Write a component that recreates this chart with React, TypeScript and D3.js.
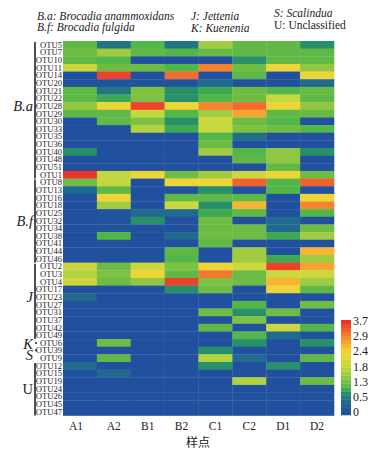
import * as d3 from 'd3';

const otus = [
  'OTU5', 'OTU7', 'OTU10', 'OTU11', 'OTU14', 'OTU20', 'OTU21', 'OTU22', 'OTU28', 'OTU29',
  'OTU30', 'OTU33', 'OTU35', 'OTU36', 'OTU40', 'OTU48', 'OTU51', 'OTU1',
  'OTU8', 'OTU13', 'OTU16', 'OTU18', 'OTU25', 'OTU32', 'OTU34', 'OTU38', 'OTU41', 'OTU44', 'OTU46',
  'OTU2', 'OTU3', 'OTU4', 'OTU17', 'OTU23', 'OTU27', 'OTU31', 'OTU37', 'OTU42', 'OTU49',
  'OTU6', 'OTU39', 'OTU9',
  'OTU12', 'OTU15', 'OTU19', 'OTU24', 'OTU26', 'OTU45', 'OTU47',
];
const samples = ['A1', 'A2', 'B1', 'B2', 'C1', 'C2', 'D1', 'D2'];

// 每行一个 OTU, 顺序同 samples
const values = [
  [1.2, 0.55, 1.1, 0.55, 1.6, 1.2, 1.2, 0.8],
  [1.3, 1.6, 1.2, 1.1, 1.25, 1.2, 1.2, 1.2],
  [1.2, 1.1, 0, 0, 0, 0.8, 1.2, 1.2],
  [1.9, 1.3, 1.3, 1.1, 2.9, 1.3, 2.3, 1.5],
  [0, 3.5, 0, 3.1, 0, 1.2, 0.02, 2.3],
  [0, 0.1, 0.1, 0.1, 0.4, 0.05, 0.05, 0.4],
  [1.2, 0.55, 1.4, 0.8, 1.0, 1.3, 1.1, 1.25],
  [1.2, 1.0, 1.4, 0.8, 1.1, 1.3, 1.8, 1.2],
  [1.5, 2.3, 3.5, 2.3, 2.9, 3.1, 2.3, 1.5],
  [1.2, 1.2, 1.8, 1.1, 1.6, 2.7, 1.2, 1.25],
  [0, 1.2, 1.4, 0.8, 1.9, 1.3, 1.1, 0],
  [0, 0, 1.7, 1.0, 1.8, 1.4, 1.3, 1.1],
  [0, 0, 0, 0, 1.1, 0.5, 0, 0],
  [0, 0, 0, 0, 1.3, 0, 0, 0],
  [0.8, 0, 0, 0, 1.6, 1.1, 1.5, 0.8],
  [0, 0, 0, 0, 0, 1.2, 1.5, 0],
  [0, 0, 0, 0, 0, 0, 1.2, 0],
  [3.6, 1.8, 2.3, 1.3, 1.6, 1.9, 2.3, 1.3],
  [1.3, 1.8, 0, 2.3, 2.3, 3.2, 1.1, 3.2],
  [0.4, 1.2, 0, 0.1, 0.8, 0.05, 1.1, 0.05],
  [0.05, 2.3, 0, 1.2, 1.2, 1.2, 0, 2.3],
  [0.05, 1.6, 0, 1.9, 0.8, 2.6, 0, 2.9],
  [0.05, 0.1, 0.4, 0.4, 1.0, 1.2, 0, 1.1],
  [0.05, 0.1, 0.8, 0.05, 1.3, 0, 0.4, 0.05],
  [0.05, 0.1, 0.05, 0.05, 1.3, 1.3, 0.4, 1.3],
  [0.05, 1.1, 0, 0.4, 1.3, 1.3, 1.0, 1.6],
  [0.05, 0.1, 0, 0.05, 1.2, 0, 0, 0.05],
  [0, 0, 0, 1.2, 0, 1.6, 0, 2.6],
  [0, 0, 0, 1.1, 0, 1.6, 1.0, 1.6],
  [1.9, 1.3, 1.9, 1.4, 2.3, 1.9, 3.5, 2.7],
  [1.7, 1.4, 2.3, 1.2, 3.0, 1.3, 1.9, 1.9],
  [1.9, 1.3, 1.5, 3.5, 1.4, 1.3, 2.6, 1.6],
  [0, 0, 0, 0.8, 1.3, 0, 2.3, 1.2],
  [0.4, 0, 0, 0, 0, 0, 0, 0],
  [0, 0, 0, 0, 0, 1.1, 0, 1.3],
  [0, 0, 0, 0, 1.3, 0.8, 1.3, 0],
  [0, 0, 0, 0, 0, 1.4, 0, 0],
  [0, 0, 0, 0, 1.2, 0, 1.9, 1.1],
  [0, 0, 0, 0, 0, 1.1, 0.4, 0],
  [0, 1.3, 0, 0, 0, 0.8, 0, 0.8],
  [0, 0, 0, 0, 0.8, 0, 0, 0],
  [0, 1.2, 0, 0, 1.7, 0.4, 0, 1.2],
  [0.4, 0, 0, 0, 0.8, 0, 0.8, 0],
  [0, 0.4, 0, 0, 0, 0, 0, 0],
  [0, 0, 0, 0, 0, 1.7, 0, 1.3],
  [0, 0, 0, 0, 0, 0, 0, 0],
  [0, 0, 0, 0, 0, 0, 0, 0],
  [0, 0, 0, 0, 0, 0, 0, 0],
  [0, 0, 0, 0, 0, 0, 0, 0],
];

const legendTicks = [0, 0.5, 1.3, 1.8, 2.4, 2.9, 3.7];

// 分组竖线: 起止 OTU
const groups = [
  { from: 'OTU5', to: 'OTU1', label: 'B.a', at: 'OTU28', italic: true },
  { from: 'OTU8', to: 'OTU46', label: 'B.f', at: 'OTU32', italic: true },
  { from: 'OTU2', to: 'OTU49', label: 'J', at: 'OTU23', italic: true },
  { from: 'OTU12', to: 'OTU47', label: 'U', at: 'OTU24', italic: false },
];
const singles = [
  { at: 'OTU6', label: 'K', shift: 1 },
  { at: 'OTU39', label: 'S', shift: 5 },
];

const legendNotes = [
  { x: 37, y: 20, text: 'B.a: Brocadia anammoxidans', italic: true },
  { x: 37, y: 31, text: 'B.f: Brocadia fulgida', italic: true },
  { x: 191, y: 20, text: 'J: Jettenia', italic: true },
  { x: 191, y: 32, text: 'K: Kuenenia', italic: true },
  { x: 274, y: 17, text: 'S: Scalindua', italic: true },
  { x: 274, y: 29, text: 'U: Unclassified', italic: false },
];

const serif = '"Liberation Serif", serif';

const color = d3
  .scaleLinear<string>()
  .domain([0, 0.05, 0.5, 0.9, 1.1, 1.3, 1.8, 2.4, 2.9, 3.7])
  .range(['#21509f', '#21509f', '#20708a', '#2a9a5e', '#52b648', '#6ebc44', '#c3d73f', '#f6d535', '#f5842e', '#ea2a2a'])
  .clamp(true);

export default function App() {
  const x = d3.scaleBand().domain(samples).range([63, 334]);
  const y = d3.scaleBand().domain(otus).range([41, 415.5]);
  const mid = (o: string) => (y(o) as number) + y.bandwidth() / 2;

  // 图例按刻度等距排列
  const legendY = d3.scalePoint().domain(legendTicks.map(String)).range([412, 321]);
  const legendBand = d3.scaleLinear().domain([0, legendTicks.length - 1]).range([415, 320]);
  const legendValue = d3.scaleLinear<number>().domain(d3.range(legendTicks.length)).range(legendTicks);
  const steps = d3.range(0, 6, 0.25);

  return (
    <svg
      width={379}
      height={454}
      style={{ position: 'absolute', left: 0, top: 0, background: '#fff' }}
      fontFamily={serif}
      fill="#222"
    >
      {legendNotes.map(n => (
        <text key={n.text} x={n.x} y={n.y} fontSize={11.5} fontStyle={n.italic ? 'italic' : 'normal'}>
          {n.text}
        </text>
      ))}

      {values.map((row, r) =>
        row.map((v, c) => (
          <rect
            key={`${r}-${c}`}
            x={x(samples[c])}
            y={y(otus[r])}
            width={x.bandwidth() + 0.3}
            height={y.bandwidth() + 0.3}
            fill={color(v)}
          />
        )),
      )}

      {otus.map(o => (
        <text key={o} x={62} y={mid(o)} dy="0.34em" fontSize={8.6} textAnchor="end">
          {o}
        </text>
      ))}

      {groups.map(g => (
        <g key={g.label}>
          <line
            x1={35}
            x2={35}
            y1={(y(g.from) as number) + 1}
            y2={(y(g.to) as number) + y.bandwidth()}
            stroke="#222"
            strokeWidth={1.6}
          />
          <text
            x={33}
            y={mid(g.at)}
            dy="0.34em"
            textAnchor="end"
            fontSize={14.5}
            fontStyle={g.italic ? 'italic' : 'normal'}
          >
            {g.label}
          </text>
        </g>
      ))}

      {singles.map(s => (
        <g key={s.label}>
          <circle cx={36} cy={mid(s.at)} r={1} fill="#222" />
          <text x={33} y={mid(s.at) + s.shift} dy="0.34em" textAnchor="end" fontSize={14.5} fontStyle="italic">
            {s.label}
          </text>
        </g>
      ))}

      {samples.map((s, i) => (
        <text
          key={s}
          x={(x(s) as number) + x.bandwidth() / 2 + (i === 0 ? -4 : 0)}
          y={430}
          textAnchor="middle"
          fontSize={11.5}
        >
          {s}
        </text>
      ))}
      <text x={198} y={447} textAnchor="middle" fontSize={12} fontFamily='"Noto Sans CJK SC", sans-serif'>
        样点
      </text>

      {steps.map(t => (
        <rect
          key={t}
          x={341}
          y={legendBand(t + 0.25)}
          width={10}
          height={legendBand(t) - legendBand(t + 0.25) + 0.3}
          fill={color(legendValue(t + 0.125))}
        />
      ))}
      {legendTicks.map(t => (
        <text key={t} x={353} y={legendY(String(t))} dy="0.34em" fontSize={12}>
          {t}
        </text>
      ))}
    </svg>
  );
}
